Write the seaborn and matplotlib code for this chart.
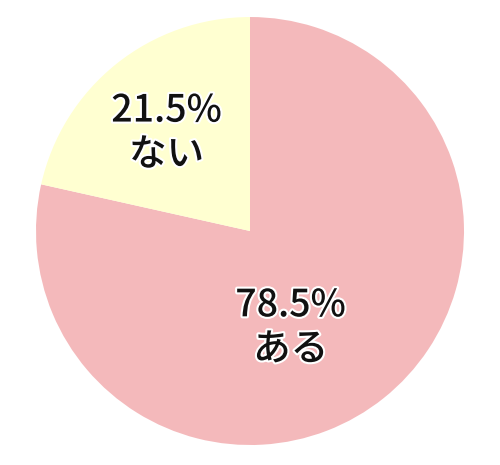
import matplotlib
matplotlib.use("Agg")
import matplotlib.pyplot as plt
import matplotlib.patheffects as pe
import seaborn as sns

# データ
labels = ["ある", "ない"]
values = [78.5, 21.5]
colors = ["#F4B9BB", "#FFFFD1"]

sns.set_style("white")
plt.rcParams['font.family'] = ['Noto Sans CJK JP', 'DejaVu Sans']

fig = plt.figure(figsize=(5, 4.65), dpi=100)
ax = fig.add_axes([0.072, 0.043, 0.856, 0.9204])

wedges, _ = ax.pie(values, colors=sns.color_palette(colors), startangle=90,
                   counterclock=False, radius=1.0,
                   wedgeprops=dict(linewidth=0))
ax.set_xlim(-1, 1)
ax.set_ylim(-1, 1)
ax.set_aspect("equal")

# ラベル位置
label_pos = [(0.19, -0.45), (-0.39, 0.46)]
for lab, v, (x, y) in zip(labels, values, label_pos):
    ax.text(x, y, f"{v}%\n{lab}", ha="center", va="center", fontsize=27,
            fontweight="medium", linespacing=1.2, color="#111111",
            path_effects=[pe.withStroke(linewidth=3, foreground="white")])

plt.savefig("out.png", dpi=100)
